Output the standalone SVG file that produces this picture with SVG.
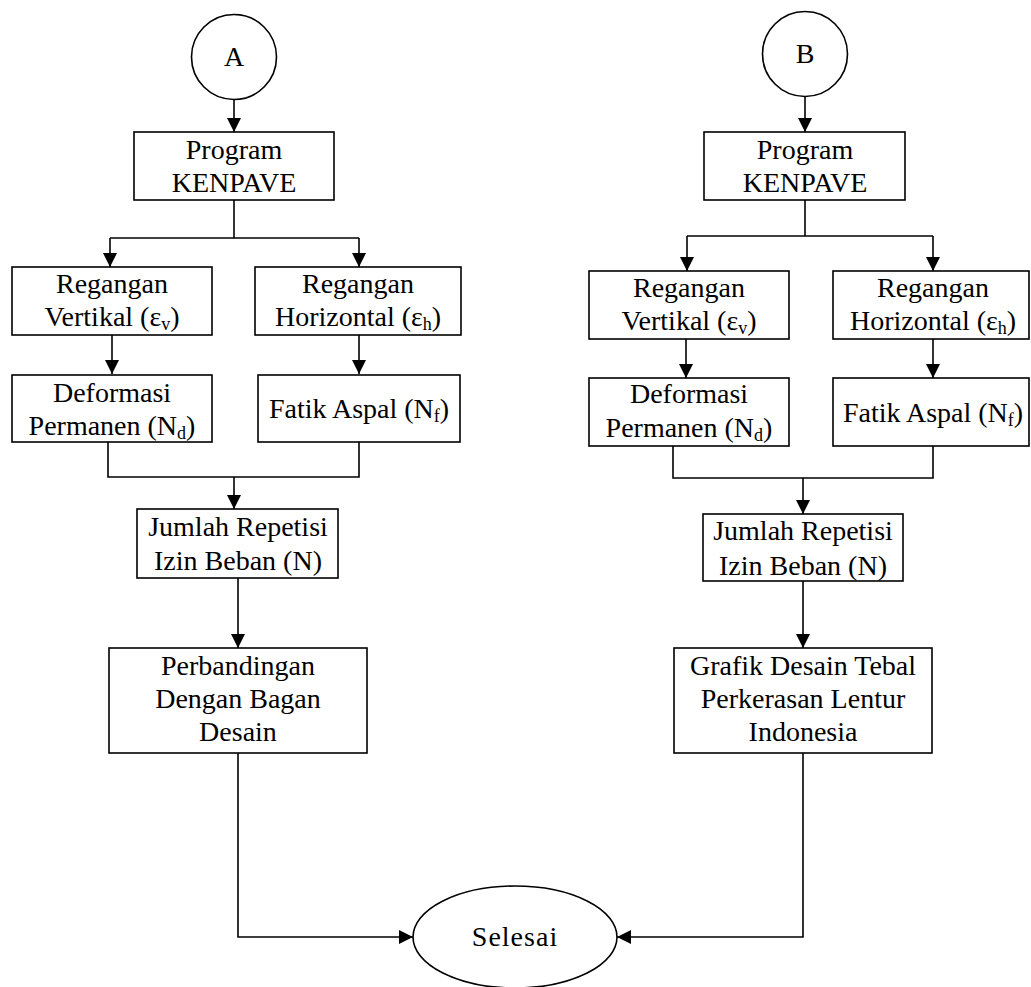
<svg xmlns="http://www.w3.org/2000/svg" width="1031" height="987" viewBox="0 0 1031 987">
<style>
.box{fill:#fff;stroke:#000;stroke-width:1.6}
.ln{fill:none;stroke:#000;stroke-width:1.6}
text{font-family:"Liberation Serif","Times New Roman",serif;font-size:28px;fill:#000;text-anchor:middle}
.sub{font-size:18px}
</style>
<defs>
<marker id="ah" markerUnits="userSpaceOnUse" markerWidth="14" markerHeight="14" viewBox="0 0 14 14" refX="14" refY="7" orient="auto">
<path d="M0,0 L14,7 L0,14 Z" fill="#000"/>
</marker>
</defs>
<g id="connectors">
<path class="ln" d="M234,100 V132" marker-end="url(#ah)"/>
<path class="ln" d="M234,200 V238"/>
<path class="ln" d="M110,238 H359"/>
<path class="ln" d="M110,238 V267" marker-end="url(#ah)"/>
<path class="ln" d="M359,238 V267" marker-end="url(#ah)"/>
<path class="ln" d="M112,335 V374" marker-end="url(#ah)"/>
<path class="ln" d="M359,335 V374" marker-end="url(#ah)"/>
<path class="ln" d="M108,442 V477 H359 V442"/>
<path class="ln" d="M234,477 V509" marker-end="url(#ah)"/>
<path class="ln" d="M238,578 V648" marker-end="url(#ah)"/>
<path class="ln" d="M238,753 V937 H413" marker-end="url(#ah)"/>
<path class="ln" d="M805,97 V132" marker-end="url(#ah)"/>
<path class="ln" d="M805,200 V236"/>
<path class="ln" d="M687,236 H933"/>
<path class="ln" d="M687,236 V271" marker-end="url(#ah)"/>
<path class="ln" d="M933,236 V271" marker-end="url(#ah)"/>
<path class="ln" d="M686,339 V378" marker-end="url(#ah)"/>
<path class="ln" d="M933,339 V378" marker-end="url(#ah)"/>
<path class="ln" d="M673,446 V478 H933 V446"/>
<path class="ln" d="M803,478 V514" marker-end="url(#ah)"/>
<path class="ln" d="M803,581 V648" marker-end="url(#ah)"/>
<path class="ln" d="M803,753 V937 H617" marker-end="url(#ah)"/>
</g>
<g id="nodeA">
<circle cx="234" cy="57" r="42.5" class="box"/>
<text x="234" y="66">A</text>
</g>
<g id="progA">
<rect x="134" y="132" width="200" height="68" class="box"/>
<text x="234" y="159">Program</text>
<text x="234" y="192">KENPAVE</text>
</g>
<g id="vertA">
<rect x="12" y="267" width="200" height="68" class="box"/>
<text x="112" y="293">Regangan</text>
<text x="112" y="326">Vertikal (ε<tspan class="sub" dy="4">v</tspan><tspan dy="-4">)</tspan></text>
</g>
<g id="horA">
<rect x="255" y="267" width="206" height="68" class="box"/>
<text x="358" y="293">Regangan</text>
<text x="358" y="326">Horizontal (ε<tspan class="sub" dy="4">h</tspan><tspan dy="-4">)</tspan></text>
</g>
<g id="defA">
<rect x="12" y="375" width="200" height="67" class="box"/>
<text x="112" y="402">Deformasi</text>
<text x="112" y="435">Permanen (N<tspan class="sub" dy="4">d</tspan><tspan dy="-4">)</tspan></text>
</g>
<g id="fatA">
<rect x="258" y="375" width="202" height="67" class="box"/>
<text x="359" y="418">Fatik Aspal (N<tspan class="sub" dy="4">f</tspan><tspan dy="-4">)</tspan></text>
</g>
<g id="jumA">
<rect x="137" y="509" width="201" height="69" class="box"/>
<text x="238" y="536">Jumlah Repetisi</text>
<text x="238" y="570">Izin Beban (N)</text>
</g>
<g id="perbA">
<rect x="109" y="648" width="258" height="105" class="box"/>
<text x="238" y="675">Perbandingan</text>
<text x="238" y="708">Dengan Bagan</text>
<text x="238" y="741">Desain</text>
</g>
<g id="nodeB">
<circle cx="805" cy="54" r="42.5" class="box"/>
<text x="805" y="63">B</text>
</g>
<g id="progB">
<rect x="704" y="132" width="201" height="68" class="box"/>
<text x="805" y="159">Program</text>
<text x="805" y="192">KENPAVE</text>
</g>
<g id="vertB">
<rect x="589" y="271" width="200" height="68" class="box"/>
<text x="689" y="297">Regangan</text>
<text x="689" y="330">Vertikal (ε<tspan class="sub" dy="4">v</tspan><tspan dy="-4">)</tspan></text>
</g>
<g id="horB">
<rect x="833" y="271" width="196" height="68" class="box"/>
<text x="933" y="297">Regangan</text>
<text x="933" y="330">Horizontal (ε<tspan class="sub" dy="4">h</tspan><tspan dy="-4">)</tspan></text>
</g>
<g id="defB">
<rect x="589" y="378" width="200" height="68" class="box"/>
<text x="689" y="403">Deformasi</text>
<text x="689" y="437">Permanen (N<tspan class="sub" dy="4">d</tspan><tspan dy="-4">)</tspan></text>
</g>
<g id="fatB">
<rect x="833" y="378" width="196" height="68" class="box"/>
<text x="933" y="422">Fatik Aspal (N<tspan class="sub" dy="4">f</tspan><tspan dy="-4">)</tspan></text>
</g>
<g id="jumB">
<rect x="703" y="514" width="200" height="67" class="box"/>
<text x="803" y="540">Jumlah Repetisi</text>
<text x="803" y="575">Izin Beban (N)</text>
</g>
<g id="grafB">
<rect x="674" y="648" width="258" height="105" class="box"/>
<text x="803" y="675">Grafik Desain Tebal</text>
<text x="803" y="708">Perkerasan Lentur</text>
<text x="803" y="741">Indonesia</text>
</g>
<g id="selesai">
<ellipse cx="515" cy="937" rx="102" ry="51" class="box"/>
<text x="515" y="946" style="letter-spacing:1px">Selesai</text>
</g>
</svg>
